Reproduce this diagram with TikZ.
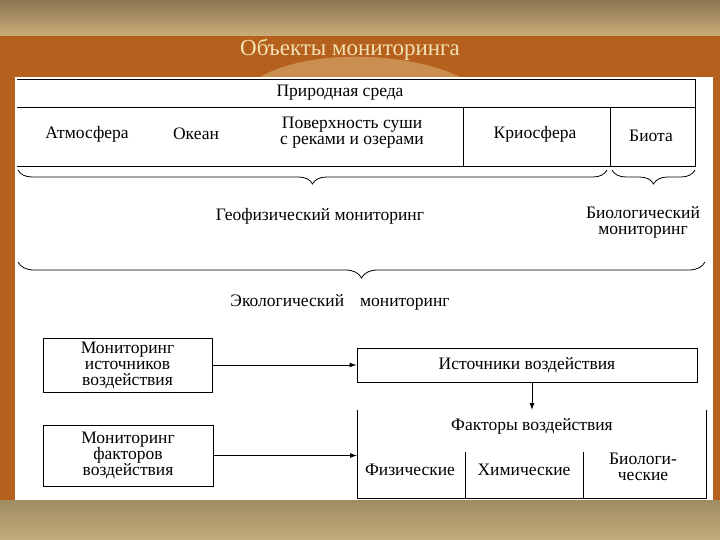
\documentclass[tikz,border=0pt]{standalone}
\usepackage{fontspec}
\setmainfont{Liberation Serif}
\usetikzlibrary{decorations.pathreplacing,arrows.meta}
\definecolor{rust}{HTML}{B5601C}
\definecolor{topc}{HTML}{8C7454}
\definecolor{topd}{HTML}{C9AE78}
\definecolor{botc}{HTML}{9E8C60}
\definecolor{botd}{HTML}{C4AC7C}
\definecolor{ttl}{HTML}{F2E2B4}
\begin{document}
\begin{tikzpicture}[x=1pt,y=-1pt,
  lbl/.style={font=\fontsize{17.5}{16}\selectfont, align=center, inner sep=1pt},
  box/.style={draw, line width=0.9pt},
  ln/.style={line width=0.9pt},
  br/.style={decorate, decoration={brace, mirror, amplitude=14pt}, line width=0.8pt},
  arr/.style={-{Latex[length=7pt,width=5pt]}, line width=0.9pt}]
\useasboundingbox (0,0) rectangle (720,540);
\shade[top color=topc, bottom color=topd] (0,0) rectangle (720,36);
\fill[rust] (0,36) rectangle (720,500);
\fill[ttl!35!rust] (260,77) .. controls (310,48) and (410,52) .. (460,77) -- cycle;
\shade[top color=botc, bottom color=botd] (0,500) rectangle (720,540);
\fill[white] (15,77) rectangle (713,500);
\node[font=\fontsize{23}{23}\selectfont, text=ttl] (title) at (350,50) {Объекты мониторинга};
% top frame
\draw[ln] (17,79) -- (695,79) -- (695,166) -- (17,166);
\draw[ln] (17,107) -- (695,107);
\draw[ln] (463,107) -- (463,166);
\draw[ln] (610,107) -- (610,166);
\node[lbl] (pr) at (340,93) {Природная среда};
\node[lbl] (atm) at (87,134) {Атмосфера};
\node[lbl] (oc) at (196,134) {Океан};
\node[lbl] (pov) at (352,133) {Поверхность суши\\с реками и озерами};
\node[lbl] (kr) at (535,134) {Криосфера};
\node[lbl] (bio) at (651,136) {Биота};
% braces
\coordinate (b1a) at (18,170); \coordinate (b1b) at (607,170);
\coordinate (b2a) at (612,170); \coordinate (b2b) at (695,170);
\coordinate (b3a) at (18,262); \coordinate (b3b) at (705,262);
\draw[br] (b1a) -- (b1b);
\draw[br] (b2a) -- (b2b);
\draw[br, decoration={amplitude=16pt}] (b3a) -- (b3b);
\node[lbl] (geo) at (320,216) {Геофизический мониторинг};
\node[lbl] (biom) at (643,222) {Биологический\\мониторинг};
\node[lbl] (eco) at (340,302) {Экологический\hspace{16pt}мониторинг};
% bottom
\node[box, lbl, minimum width=169pt, minimum height=54pt] (m1) at (127.5,365) {Мониторинг\\источников\\воздействия};
\node[box, lbl, minimum width=170pt, minimum height=61pt] (m2) at (128,455.5) {Мониторинг\\факторов\\воздействия};
\node[box, lbl, minimum width=340pt, minimum height=34pt] (ist) at (527,365) {Источники воздействия};
\coordinate (fl) at (357,455.5);
\draw[ln] (357,410) -- (357,498) -- (706,498) -- (706,410);
\draw[ln] (465,452) -- (465,498);
\draw[ln] (583,452) -- (583,498);
\node[lbl] (fak) at (532,426) {Факторы воздействия};
\node[lbl] (fiz) at (410,470) {Физические};
\node[lbl] (him) at (524,470) {Химические};
\node[lbl] (bl) at (643,467) {Биологи-\\ческие};
\coordinate (ft) at (532,410);
\draw[arr] (m1.east) -- (m1.east -| ist.west);
\draw[arr] (m2.east) -- (fl);
\draw[arr] (ist.south -| ft) -- (ft);
\end{tikzpicture}
\end{document}
